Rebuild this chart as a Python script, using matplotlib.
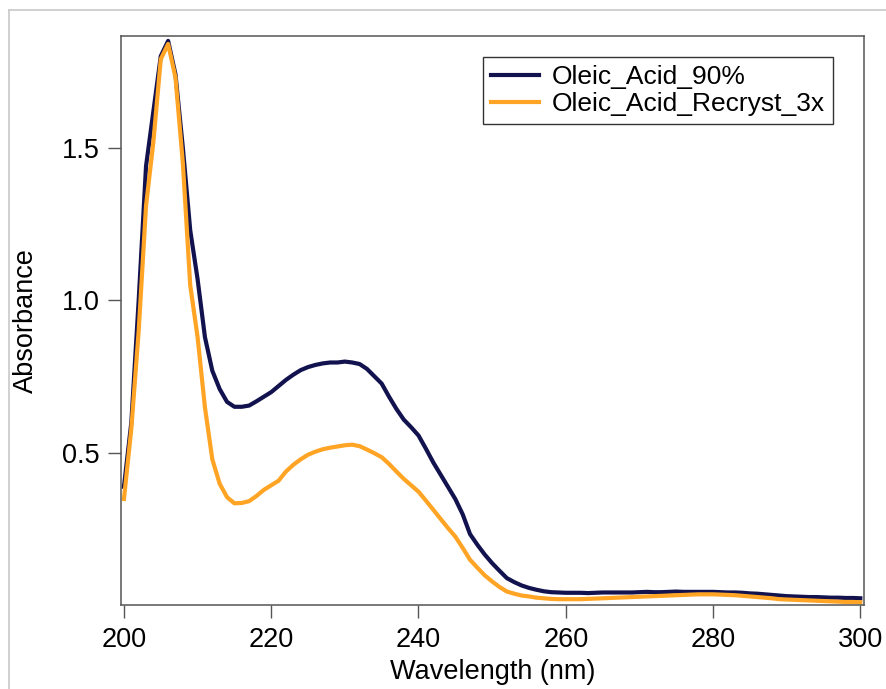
import numpy as np
import matplotlib
matplotlib.use("Agg")
import matplotlib.pyplot as plt
from matplotlib.lines import Line2D

# wavelength grid (nm), 1 nm steps
wavelength = np.arange(200, 301)

# Oleic_Acid_90%
oleic_90 = [
    0.39, 0.60, 1.00, 1.44, 1.62, 1.80, 1.85, 1.74, 1.50, 1.23,   # 200-209
    1.07, 0.88, 0.77, 0.71, 0.668, 0.652, 0.652, 0.656, 0.670, 0.685,  # 210-219
    0.700, 0.720, 0.740, 0.757, 0.772, 0.782, 0.789, 0.794, 0.797, 0.797,  # 220-229
    0.800, 0.797, 0.792, 0.776, 0.752, 0.728, 0.685, 0.645, 0.610, 0.585,  # 230-239
    0.558, 0.515, 0.470, 0.430, 0.390, 0.350, 0.300, 0.235, 0.200, 0.168,  # 240-249
    0.140, 0.115, 0.091, 0.078, 0.067, 0.059, 0.053, 0.048, 0.045, 0.044,  # 250-259
    0.043, 0.043, 0.043, 0.042, 0.043, 0.044, 0.044, 0.044, 0.044, 0.044,  # 260-269
    0.045, 0.046, 0.045, 0.045, 0.046, 0.047, 0.046, 0.046, 0.046, 0.046,  # 270-279
    0.046, 0.045, 0.044, 0.044, 0.043, 0.041, 0.040, 0.038, 0.036, 0.034,  # 280-289
    0.032, 0.031, 0.030, 0.029, 0.029, 0.028, 0.027, 0.027, 0.026, 0.026,  # 290-299
    0.025,                                                               # 300
]

# Oleic_Acid_Recryst_3x
oleic_recryst = [
    0.35, 0.58, 0.90, 1.31, 1.52, 1.79, 1.84, 1.73, 1.45, 1.05,   # 200-209
    0.88, 0.65, 0.48, 0.40, 0.356, 0.336, 0.337, 0.343, 0.360, 0.380,  # 210-219
    0.395, 0.410, 0.440, 0.462, 0.480, 0.495, 0.505, 0.513, 0.518, 0.522,  # 220-229
    0.526, 0.528, 0.523, 0.512, 0.500, 0.487, 0.465, 0.440, 0.416, 0.395,  # 230-239
    0.374, 0.345, 0.315, 0.285, 0.255, 0.227, 0.190, 0.151, 0.125, 0.100,  # 240-249
    0.080, 0.062, 0.047, 0.040, 0.034, 0.031, 0.027, 0.025, 0.023, 0.022,  # 250-259
    0.022, 0.022, 0.022, 0.023, 0.024, 0.025, 0.026, 0.027, 0.028, 0.029,  # 260-269
    0.030, 0.031, 0.032, 0.033, 0.034, 0.035, 0.036, 0.037, 0.038, 0.038,  # 270-279
    0.038, 0.037, 0.036, 0.035, 0.033, 0.031, 0.029, 0.027, 0.025, 0.022,  # 280-289
    0.021, 0.020, 0.019, 0.018, 0.017, 0.016, 0.015, 0.014, 0.013, 0.013,  # 290-299
    0.012,                                                               # 300
]

labels = ["Oleic_Acid_90%", "Oleic_Acid_Recryst_3x"]
colors = ["#12124f", "#ffa424"]

plt.rcParams['font.family'] = ['Liberation Sans', 'DejaVu Sans']

fig = plt.figure(figsize=(8.87, 6.89), dpi=100)
ax = fig.add_axes([121 / 887, 1 - 605 / 689, (864 - 121) / 887, (605 - 36) / 689])

ax.plot(wavelength, oleic_90, color=colors[0], lw=3.0, label=labels[0],
        solid_joinstyle='round')
ax.plot(wavelength, oleic_recryst, color=colors[1], lw=3.0, label=labels[1],
        solid_joinstyle='round')

ax.set_xlim(199.6, 300.5)
ax.set_ylim(0.003, 1.866)
ax.set_xticks([200, 220, 240, 260, 280, 300])
ax.set_yticks([0.5, 1.0, 1.5])
ax.set_yticklabels(["0.5", "1.0", "1.5"])

for sp in ax.spines.values():
    sp.set_color("#555555")
    sp.set_linewidth(1.1)
ax.tick_params(direction='out', length=9.5, width=1.0, color="#555555",
               labelsize=19.5, labelcolor='black', pad=6)

ax.set_xlabel("Wavelength (nm)", fontsize=19.5, labelpad=5)
ax.set_ylabel("Absorbance", fontsize=19.5, labelpad=16)

leg = ax.legend(loc='upper right', bbox_to_anchor=(833 / 887, 1 - 57 / 689),
                bbox_transform=fig.transFigure, fontsize=19, frameon=True,
                fancybox=False, borderpad=0.3, handlelength=1.8,
                handletextpad=0.5, labelspacing=0.12, borderaxespad=0)
leg.get_frame().set_edgecolor('black')
leg.get_frame().set_linewidth(1.0)

# light border of the original screenshot
fig.add_artist(Line2D([9 / 887, 1], [1 - 10 / 689, 1 - 10 / 689],
                      transform=fig.transFigure, color="#c8c8c8", lw=1.2))
fig.add_artist(Line2D([9 / 887, 9 / 887], [0, 1 - 10 / 689],
                      transform=fig.transFigure, color="#c8c8c8", lw=1.2))

fig.savefig("out.png", dpi=100)
